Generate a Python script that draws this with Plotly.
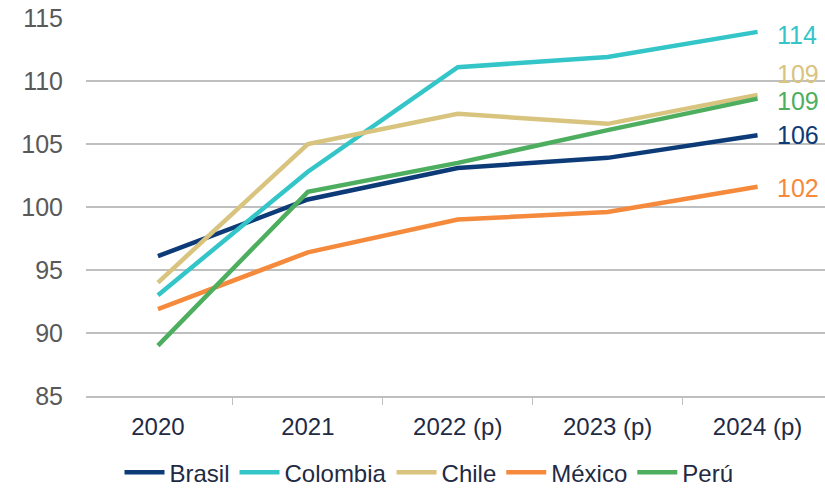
import plotly.graph_objects as go

years = ['2020', '2021', '2022 (p)', '2023 (p)', '2024 (p)']
brasil = [96.1, 100.6, 103.1, 103.9, 105.7]
colombia = [93.0, 102.8, 111.1, 111.9, 113.9]
chile = [94.0, 105.0, 107.4, 106.6, 108.9]
mexico = [91.9, 96.4, 99.0, 99.6, 101.6]
peru = [89.0, 101.2, 103.5, 106.1, 108.6]
endLabels = ['106', '114', '109', '102', '109']

names = ['Brasil', 'Colombia', 'Chile', 'México', 'Perú']
colors = ['#0D3B78', '#33C5C8', '#D8C47E', '#F58A3C', '#4DAE5F']
series = [brasil, colombia, chile, mexico, peru]

fontFamily = 'Liberation Sans, Arial, sans-serif'
darkText = '#1F2A44'

fig = go.Figure()
for name, color, values in zip(names, colors, series):
    fig.add_trace(go.Scatter(x=years, y=values, name=name, mode='lines',
                             line=dict(color=color, width=4.5)))

# nudge end labels that would collide
labelShift = {'Colombia': -3, 'Chile': 21, 'Perú': -2, 'Brasil': 0, 'México': -1}
for name, color, values, label in zip(names, colors, series, endLabels):
    fig.add_annotation(x=years[-1], y=values[-1], text=label, showarrow=False,
                       xanchor='left', xshift=17, yshift=labelShift[name],
                       font=dict(color=color, size=25, family=fontFamily))

fig.update_layout(
    width=825, height=488,
    margin=dict(l=86, r=0, t=18, b=92, autoexpand=False),
    plot_bgcolor='white', paper_bgcolor='white',
    font=dict(family=fontFamily, size=24, color='#595959'),
    showlegend=True,
    legend=dict(orientation='h', xref='container', x=0.52, xanchor='center',
                y=-0.203, yanchor='middle',
                font=dict(size=24, color=darkText), itemwidth=40, tracegroupgap=0),
    xaxis=dict(range=[-0.48, 4.45], showgrid=False, showline=True, linecolor='#BFBFBF',
               linewidth=2, ticks='outside', tickson='boundaries', ticklen=7,
               tickcolor='#BFBFBF', tickwidth=1, ticklabelstandoff=8, automargin=False,
               tickfont=dict(size=24, color=darkText)),
    yaxis=dict(range=[85, 115], dtick=5, showgrid=True, gridcolor='#BFBFBF', gridwidth=2,
               zeroline=False, ticks='', ticklabelstandoff=22, automargin=False,
               tickfont=dict(size=25, color='#595959')),
)

# drop the default page margin so the figure fills the window
fig.write_html("out.html", config={'displayModeBar': False},
               post_script="document.body.style.margin='0';")
